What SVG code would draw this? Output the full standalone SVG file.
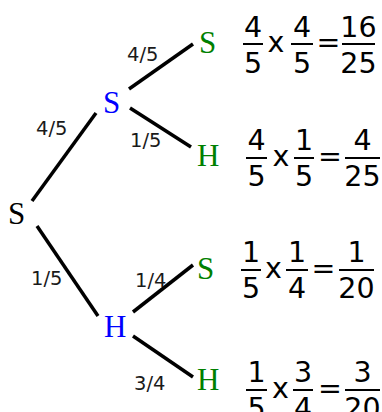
<svg xmlns="http://www.w3.org/2000/svg" width="382" height="412" viewBox="0 0 382 412">
<style>
.node{font-family:"Liberation Serif","Times New Roman",serif;font-size:31px}
.blue{fill:#0000ff}
.green{fill:#008000}
.black{fill:#000}
.lbl{font-family:"DejaVu Sans",sans-serif;font-size:19.5px;fill:#1a1a1a}
.eq{font-family:"DejaVu Sans",sans-serif;font-size:28.5px;fill:#000;text-anchor:middle}
.bar{stroke:#000;stroke-width:2}
.edge{stroke:#000;stroke-width:3.5;stroke-linecap:butt}
</style>
<rect width="382" height="412" fill="#fff"/>
<g id="connectors">
<line class="edge" x1="32" y1="201" x2="96" y2="113"/>
<line class="edge" x1="129" y1="89" x2="193" y2="44"/>
<line class="edge" x1="130" y1="108" x2="191" y2="147"/>
<line class="edge" x1="37" y1="226" x2="98" y2="316"/>
<line class="edge" x1="133" y1="312" x2="193" y2="265"/>
<line class="edge" x1="133" y1="336" x2="193" y2="377"/>
</g>
<g id="labels">
<text class="lbl" x="127" y="61">4/5</text>
<text class="lbl" x="36" y="135">4/5</text>
<text class="lbl" x="130" y="147">1/5</text>
<text class="lbl" x="31" y="285">1/5</text>
<text class="lbl" x="135" y="287">1/4</text>
<text class="lbl" x="134" y="390">3/4</text>
</g>
<g id="root"><text class="node black" x="8" y="224">S</text></g>
<g id="S1"><text class="node blue" x="103" y="113">S</text></g>
<g id="H1"><text class="node blue" x="104" y="337">H</text></g>
<g id="SS"><text class="node green" x="199" y="53">S</text></g>
<g id="SH"><text class="node green" x="197" y="166">H</text></g>
<g id="HS"><text class="node green" x="197" y="279">S</text></g>
<g id="HH"><text class="node green" x="197" y="390">H</text></g>
<g id="eq1">
<text class="eq" x="253" y="37">4</text><line class="bar" x1="243" y1="44" x2="263" y2="44"/><text class="eq" x="253" y="73">5</text>
<text class="eq" x="276" y="52">x</text>
<text class="eq" x="302" y="37">4</text><line class="bar" x1="291" y1="44" x2="313" y2="44"/><text class="eq" x="302" y="73">5</text>
<text class="eq" x="328.5" y="52">=</text>
<text class="eq" x="358.5" y="37">16</text><line class="bar" x1="342" y1="44" x2="375" y2="44"/><text class="eq" x="358.5" y="73">25</text>
</g>
<g id="eq2">
<text class="eq" x="256.5" y="150">4</text><line class="bar" x1="246" y1="158" x2="267" y2="158"/><text class="eq" x="256.5" y="186">5</text>
<text class="eq" x="281" y="166">x</text>
<text class="eq" x="304" y="150">1</text><line class="bar" x1="294" y1="158" x2="314" y2="158"/><text class="eq" x="304" y="186">5</text>
<text class="eq" x="330" y="166">=</text>
<text class="eq" x="362.5" y="150">4</text><line class="bar" x1="345" y1="158" x2="380" y2="158"/><text class="eq" x="362.5" y="186">25</text>
</g>
<g id="eq3">
<text class="eq" x="251" y="262">1</text><line class="bar" x1="241" y1="270" x2="261" y2="270"/><text class="eq" x="251" y="298">5</text>
<text class="eq" x="273.5" y="278">x</text>
<text class="eq" x="297" y="262">1</text><line class="bar" x1="286" y1="270" x2="308" y2="270"/><text class="eq" x="297" y="298">4</text>
<text class="eq" x="323.5" y="278">=</text>
<text class="eq" x="356.5" y="262">1</text><line class="bar" x1="339" y1="270" x2="374" y2="270"/><text class="eq" x="356.5" y="298">20</text>
</g>
<g id="eq4">
<text class="eq" x="256.5" y="382">1</text><line class="bar" x1="246" y1="390" x2="267" y2="390"/><text class="eq" x="256.5" y="418">5</text>
<text class="eq" x="280.5" y="398">x</text>
<text class="eq" x="303" y="382">3</text><line class="bar" x1="293" y1="390" x2="313" y2="390"/><text class="eq" x="303" y="418">4</text>
<text class="eq" x="330" y="398">=</text>
<text class="eq" x="362.5" y="382">3</text><line class="bar" x1="345" y1="390" x2="380" y2="390"/><text class="eq" x="362.5" y="418">20</text>
</g>
</svg>
